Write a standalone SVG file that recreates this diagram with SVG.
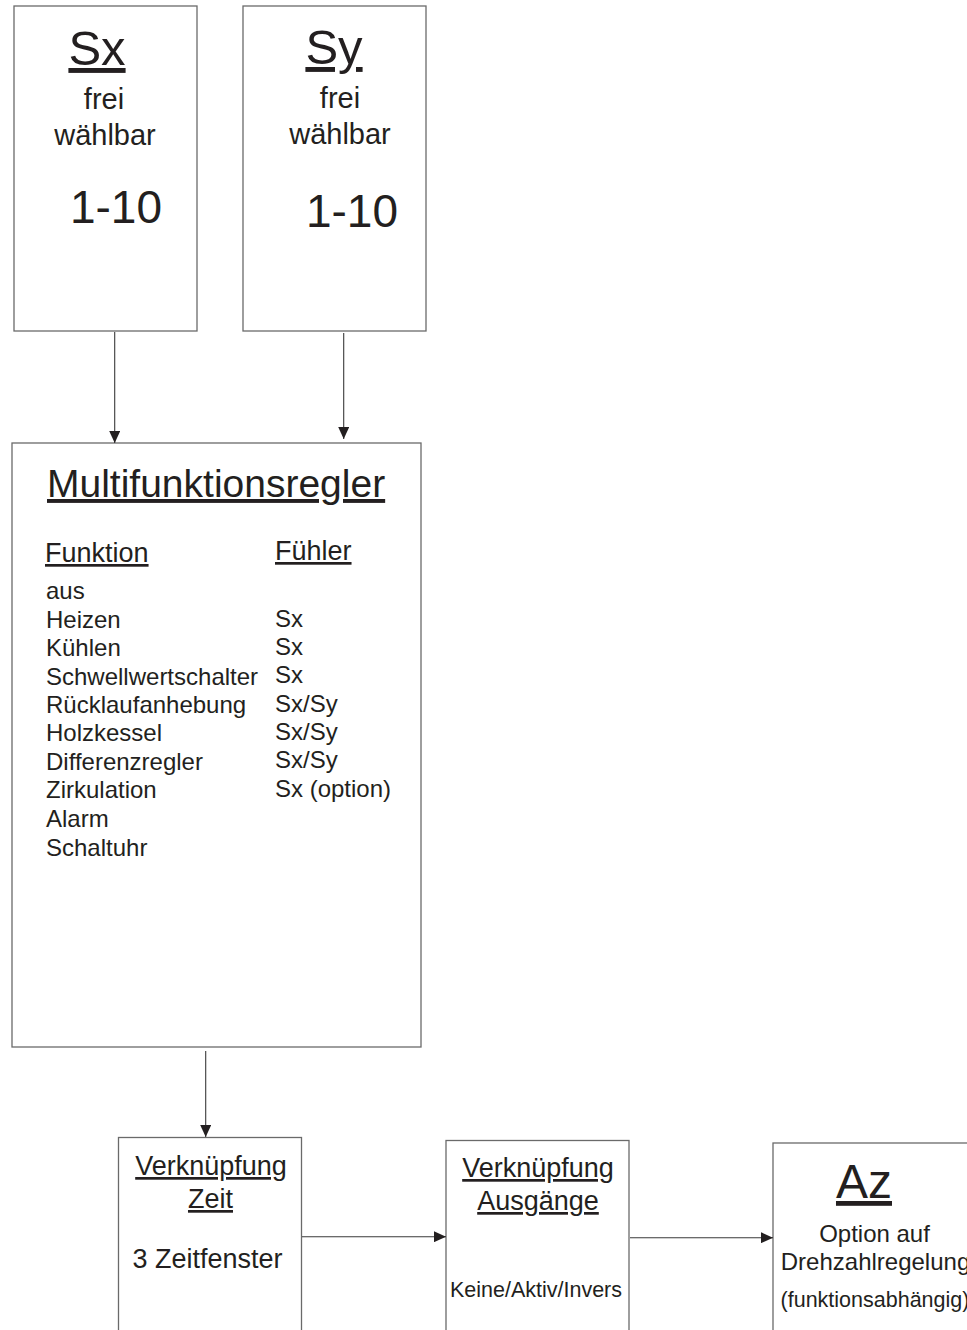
<svg xmlns="http://www.w3.org/2000/svg" width="967" height="1330" viewBox="0 0 967 1330">
  <style>
    .box { fill: #ffffff; stroke: #6a6a6a; stroke-width: 1.3; }
    .conn { fill: none; stroke: #3a3a3a; stroke-width: 1.1; }
    text { font-family: "Liberation Sans", Arial, sans-serif; fill: #231f20; }
    .mid { text-anchor: middle; }
    .u { text-decoration: underline; }
  </style>
  <defs>
    <marker id="arrow" markerUnits="userSpaceOnUse" markerWidth="12" markerHeight="11" refX="12" refY="5.5" orient="auto">
      <path d="M0,0 L12,5.5 L0,11 z" fill="#231f20"/>
    </marker>
  </defs>
  <rect x="0" y="0" width="967" height="1330" fill="#ffffff"/>

  <g id="node-sx">
    <rect class="box" x="14" y="6" width="183" height="325"/>
    <text class="mid u" x="97" y="65" font-size="49">Sx</text>
    <text class="mid" x="104" y="109" font-size="29">frei</text>
    <text class="mid" x="105" y="145" font-size="29">wählbar</text>
    <text class="mid" x="116" y="223" font-size="46">1-10</text>
  </g>

  <g id="node-sy">
    <rect class="box" x="243" y="6" width="183" height="325"/>
    <text class="mid u" x="334" y="64" font-size="49">Sy</text>
    <text class="mid" x="340" y="108" font-size="29">frei</text>
    <text class="mid" x="340" y="144" font-size="29">wählbar</text>
    <text class="mid" x="352" y="227" font-size="46">1-10</text>
  </g>

  <g id="node-multi">
    <rect class="box" x="12" y="443" width="409" height="604"/>
    <text class="u" x="47" y="497" font-size="39">Multifunktionsregler</text>
    <text class="u" x="45" y="562" font-size="27">Funktion</text>
    <text class="u" x="275" y="560" font-size="27">Fühler</text>
    <g font-size="24">
      <text x="46" y="599">aus</text>
      <text x="46" y="628">Heizen</text>
      <text x="46" y="656">Kühlen</text>
      <text x="46" y="685">Schwellwertschalter</text>
      <text x="46" y="713">Rücklaufanhebung</text>
      <text x="46" y="741">Holzkessel</text>
      <text x="46" y="770">Differenzregler</text>
      <text x="46" y="798">Zirkulation</text>
      <text x="46" y="827">Alarm</text>
      <text x="46" y="856">Schaltuhr</text>
      <text x="275" y="627">Sx</text>
      <text x="275" y="655">Sx</text>
      <text x="275" y="683">Sx</text>
      <text x="275" y="712">Sx/Sy</text>
      <text x="275" y="740">Sx/Sy</text>
      <text x="275" y="768">Sx/Sy</text>
      <text x="275" y="797">Sx (option)</text>
    </g>
  </g>

  <g id="node-zeit">
    <rect class="box" x="118.5" y="1137.5" width="183" height="200"/>
    <text class="mid u" x="211" y="1175" font-size="27">Verknüpfung</text>
    <text class="mid u" x="210.5" y="1208" font-size="27">Zeit</text>
    <text class="mid" x="207.5" y="1268" font-size="27">3 Zeitfenster</text>
  </g>

  <g id="node-ausgaenge">
    <rect class="box" x="446" y="1140.5" width="183" height="200"/>
    <text class="mid u" x="538" y="1177" font-size="27">Verknüpfung</text>
    <text class="mid u" x="538" y="1210" font-size="27">Ausgänge</text>
    <text class="mid" x="536" y="1297" font-size="21.5">Keine/Aktiv/Invers</text>
  </g>

  <g id="node-az">
    <rect class="box" x="773" y="1143" width="210" height="200"/>
    <text class="mid u" x="864" y="1198" font-size="48">Az</text>
    <text class="mid" x="874.5" y="1242" font-size="24">Option auf</text>
    <text class="mid" x="875.5" y="1270" font-size="24">Drehzahlregelung</text>
    <text class="mid" x="875" y="1307" font-size="21.5">(funktionsabhängig)</text>
  </g>

  <g id="connectors">
    <line class="conn" x1="114.7" y1="332" x2="114.7" y2="443" marker-end="url(#arrow)"/>
    <line class="conn" x1="343.7" y1="333" x2="343.7" y2="439" marker-end="url(#arrow)"/>
    <line class="conn" x1="205.7" y1="1051" x2="205.7" y2="1137" marker-end="url(#arrow)"/>
    <line class="conn" x1="302" y1="1236.7" x2="446" y2="1236.7" marker-end="url(#arrow)"/>
    <line class="conn" x1="630" y1="1237.7" x2="773" y2="1237.7" marker-end="url(#arrow)"/>
  </g>
</svg>
